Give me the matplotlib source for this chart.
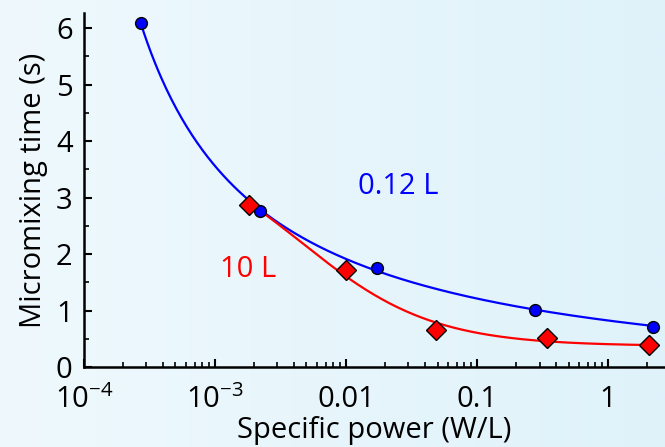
import matplotlib.pyplot as plt
from matplotlib.colors import to_rgb
from matplotlib.ticker import FixedLocator, FixedFormatter, MultipleLocator, LogLocator, NullFormatter
import numpy as np

plt.rcParams['font.family'] = ['Open Sans', 'DejaVu Sans']
plt.rcParams['mathtext.fontset'] = 'custom'
plt.rcParams['mathtext.rm'] = 'Open Sans'
plt.rcParams['mathtext.it'] = 'Open Sans'

# data
power_small = [2.72e-4, 2.21e-3, 0.0173, 0.277, 2.21]
time_small = [6.09, 2.76, 1.75, 1.01, 0.71]
power_large = [1.82e-3, 0.0100, 0.0487, 0.342, 2.06]
time_large = [2.87, 1.72, 0.65, 0.51, 0.39]

x_ticks = [1e-4, 1e-3, 0.01, 0.1, 1]
x_tick_labels = [r'$10^{-4}$', r'$10^{-3}$', '0.01', '0.1', '1']
label_small = '0.12 L'
label_large = '10 L'

fig = plt.figure(figsize=(6.65, 4.47), dpi=100)

# soft light-blue background gradient
bg = fig.add_axes([0, 0, 1, 1], zorder=-10)
t = np.linspace(0, 1, 256)
c0 = np.array(to_rgb('#eff9fd'))
c1 = np.array(to_rgb('#dff2fa'))
grad = c0[None, :] * (1 - t[:, None]) + c1[None, :] * t[:, None]
bg.imshow(grad[None, :, :], aspect='auto', extent=[0, 1, 0, 1])
bg.axis('off')

ax = fig.add_axes([0.126, 0.179, 0.874, 0.792])
ax.set_facecolor('none')

# blue trend: y = a + b / (log10(x) - L0), L0 by grid search
def trend_hyper(px, py):
    L = np.log10(px)
    py = np.asarray(py)
    best = None
    for L0 in np.linspace(L[0] - 3, L[0] - 0.05, 600):
        A = np.column_stack([np.ones_like(L), 1 / (L - L0)])
        coef = np.linalg.lstsq(A, py, rcond=None)[0]
        err = np.sum((A @ coef - py) ** 2)
        if best is None or err < best[0]:
            best = (err, L0, coef)
    _, L0, (a, b) = best
    xs = np.linspace(L[0], L[-1], 300)
    return 10 ** xs, a + b / (xs - L0)

# red trend: gentle logistic step in log10(x), midpoint kept near the first point
def trend_logistic(px, py):
    L = np.log10(px)
    py = np.asarray(py)
    best = None
    for k in np.linspace(0.8, 1.0, 21):
        for Lm in np.linspace(L[0] - 1, L[0] + 0.4, 141):
            A = np.column_stack([np.ones_like(L), 1 / (1 + 10 ** (k * (L - Lm)))])
            coef = np.linalg.lstsq(A, py, rcond=None)[0]
            err = np.sum((A @ coef - py) ** 2)
            if best is None or err < best[0]:
                best = (err, k, Lm, coef)
    _, k, Lm, (a, b) = best
    xs = np.linspace(L[0], L[-1], 300)
    return 10 ** xs, a + b / (1 + 10 ** (k * (xs - Lm)))

bx, by = trend_hyper(power_small, time_small)
rx, ry = trend_logistic(power_large, time_large)
ax.plot(bx, by, color='#0000ff', lw=1.6, zorder=2)
ax.plot(rx, ry, color='#ff0000', lw=1.6, zorder=2)

ax.plot(power_small, time_small, 'o', ms=8.5, mfc='#0000ff', mec='black', mew=1, zorder=3)
ax.plot(power_large, time_large, 'D', ms=10.5, mfc='#ff0000', mec='black', mew=1, zorder=4)

ax.text(0.0124, 3.19, label_small, color='#0000ff', fontsize=21, va='center')
ax.text(1.09e-3, 1.72, label_large, color='#ff0000', fontsize=21, va='center')

ax.set_xscale('log')
ax.set_xlim(1e-4, 2.72)
ax.set_ylim(0, 6.27)

ax.xaxis.set_major_locator(FixedLocator(x_ticks))
ax.xaxis.set_major_formatter(FixedFormatter(x_tick_labels))
ax.xaxis.set_minor_locator(LogLocator(base=10, subs=np.arange(2, 10)))
ax.xaxis.set_minor_formatter(NullFormatter())
ax.yaxis.set_major_locator(MultipleLocator(1))
ax.yaxis.set_minor_locator(MultipleLocator(0.5))

for s in ['top', 'right']:
    ax.spines[s].set_visible(False)
for s in ['left', 'bottom']:
    ax.spines[s].set_linewidth(1.8)
ax.tick_params(which='major', direction='in', length=6, width=1.5, labelsize=21)
ax.tick_params(axis='y', which='major', pad=8)
ax.tick_params(axis='x', which='major', pad=13)
ax.tick_params(which='minor', direction='in', length=3.5, width=1.2)

ax.set_xlabel('Specific power (W/L)', fontsize=21, labelpad=1)
ax.set_ylabel('Micromixing time (s)', fontsize=21, labelpad=6)

fig.savefig('out.png', dpi=100)
